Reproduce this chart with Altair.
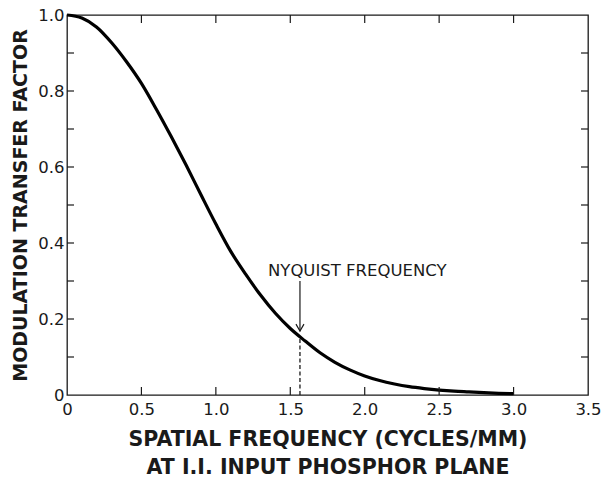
import altair as alt
import pandas as pd

# ---- data ----
freq = [0.0, 0.1, 0.2, 0.3, 0.4, 0.5, 0.6, 0.7, 0.8, 0.9, 1.0,
        1.1, 1.2, 1.3, 1.4, 1.5, 1.6, 1.7, 1.8, 1.9, 2.0,
        2.1, 2.2, 2.3, 2.4, 2.5, 2.6, 2.7, 2.8, 2.9, 3.0]
mtf = [1.000, 0.992, 0.968, 0.927, 0.877, 0.820, 0.752, 0.680, 0.605, 0.527, 0.450,
       0.378, 0.318, 0.263, 0.215, 0.175, 0.142, 0.111, 0.086, 0.066, 0.050,
       0.038, 0.029, 0.022, 0.017, 0.013, 0.010, 0.008, 0.006, 0.0045, 0.0035]

x_label_values = [0, 0.5, 1.0, 1.5, 2.0, 2.5, 3.0, 3.5]
y_label_values = [0, 0.2, 0.4, 0.6, 0.8, 1.0]
x_tick_values = [0.5, 1.0, 1.5, 2.0, 2.5, 3.0]
y_tick_values = [0.1, 0.2, 0.3, 0.4, 0.5, 0.6, 0.7, 0.8, 0.9]

x_title = ["SPATIAL FREQUENCY (CYCLES/MM)", "AT I.I. INPUT PHOSPHOR PLANE"]
y_title = "MODULATION TRANSFER FACTOR"

nyq_label = "NYQUIST FREQUENCY"
nyq_freq = 1.565
nyq_mtf = 0.151
arrow_top = 0.30
arrow_tip = 0.168
label_x = 1.35
label_y = 0.313

x_min, x_max = 0.0, 3.5
y_min, y_max = 0.0, 1.0

# ---- tables ----
curve_df = pd.DataFrame({"freq": freq, "mtf": mtf})
xtick_df = pd.DataFrame({"x": x_tick_values})
ytick_df = pd.DataFrame({"y": y_tick_values})
dash_df = pd.DataFrame({"x": [nyq_freq], "y": [y_min], "y2": [nyq_mtf]})
arrow_df = pd.DataFrame({"x": [nyq_freq], "y": [arrow_top], "y2": [arrow_tip]})
label_df = pd.DataFrame({"x": [label_x], "y": [label_y], "t": [nyq_label]})

FONT = "DejaVu Sans"
INK = "#1a1a1a"

xs = alt.Scale(domain=[x_min, x_max], nice=False, zero=False)
ys = alt.Scale(domain=[y_min, y_max], nice=False, zero=False)

label_expr = "datum.value == 0 ? '0' : format(datum.value, '.1f')"

x_axis = alt.Axis(values=x_label_values, labelExpr=label_expr, title=x_title,
                  ticks=False, tickSize=0, domain=False, grid=False,
                  labelFont=FONT, labelFontSize=16.5, labelColor=INK, labelPadding=6,
                  labelFlush=False, labelOverlap=False,
                  titleFont=FONT, titleFontSize=20.5, titleFontWeight="bold",
                  titleColor=INK, titlePadding=12, titleLineHeight=28)
y_axis = alt.Axis(values=y_label_values, labelExpr=label_expr, title=y_title,
                  ticks=False, tickSize=0, domain=False, grid=False,
                  labelFont=FONT, labelFontSize=16.5, labelColor=INK, labelPadding=3,
                  labelFlush=False, labelOverlap=False,
                  titleFont=FONT, titleFontSize=19, titleFontWeight="bold",
                  titleColor=INK, titlePadding=7)

curve = alt.Chart(curve_df).mark_line(color="black", strokeWidth=3.2,
                                      interpolate="monotone").encode(
    x=alt.X("freq:Q", scale=xs, axis=x_axis),
    y=alt.Y("mtf:Q", scale=ys, axis=y_axis),
)

bottom_ticks = alt.Chart(xtick_df).mark_tick(
    orient="vertical", size=16, thickness=1.2, color=INK, clip=True, opacity=1).encode(
    x=alt.X("x:Q", scale=xs), y=alt.YDatum(y_min))
top_ticks = alt.Chart(xtick_df).mark_tick(
    orient="vertical", size=16, thickness=1.2, color=INK, clip=True, opacity=1).encode(
    x=alt.X("x:Q", scale=xs), y=alt.YDatum(y_max))
left_ticks = alt.Chart(ytick_df).mark_tick(
    orient="horizontal", size=14, thickness=1.2, color=INK, clip=True, opacity=1).encode(
    y=alt.Y("y:Q", scale=ys), x=alt.XDatum(x_min))
right_ticks = alt.Chart(ytick_df).mark_tick(
    orient="horizontal", size=14, thickness=1.2, color=INK, clip=True, opacity=1).encode(
    y=alt.Y("y:Q", scale=ys), x=alt.XDatum(x_max))

dashed = alt.Chart(dash_df).mark_rule(color=INK, strokeWidth=1.3, strokeDash=[4, 2.5]).encode(
    x="x:Q", y="y:Q", y2="y2:Q")
arrow_shaft = alt.Chart(arrow_df).mark_rule(color=INK, strokeWidth=1.2).encode(
    x="x:Q", y="y:Q", y2="y2:Q")
arrow_head = alt.Chart(arrow_df).mark_point(
    shape="M-0.8,-1.4L0,0L0.8,-1.4", filled=False, size=100,
    color=INK, strokeWidth=1.2, opacity=1).encode(x="x:Q", y="y2:Q")
label = alt.Chart(label_df).mark_text(align="left", baseline="alphabetic",
                                      font=FONT, fontSize=16.5, color=INK).encode(
    x="x:Q", y="y:Q", text="t:N")

chart = alt.layer(curve, bottom_ticks, top_ticks, left_ticks, right_ticks,
                  dashed, arrow_shaft, arrow_head, label).properties(
    width=521, height=380,
    autosize=alt.AutoSizeParams(type="none"),
    padding={"left": 67, "top": 15, "right": 15, "bottom": 84},
    background="white",
).configure_view(stroke=INK, strokeWidth=1.3)

chart.save("out.html", embed_options={"renderer": "svg", "actions": False})
